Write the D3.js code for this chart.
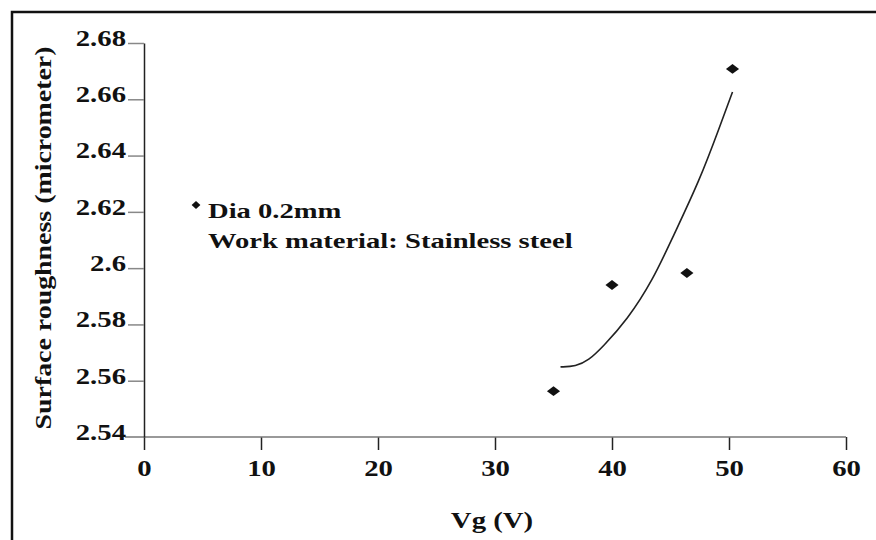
<!DOCTYPE html>
<html>
<head>
<meta charset="utf-8">
<script src="https://cdn.jsdelivr.net/npm/d3@7"></script>
<style>
  body { margin: 0; background: #fff; }
  text { font-family: "Liberation Serif", "Times New Roman", serif; font-weight: bold; fill: #111; }
</style>
</head>
<body>
<svg id="chart" width="876" height="540"></svg>
<script>
// measured points
const vg = [35, 40, 46.4, 50.3];
const roughness = [2.5563, 2.594, 2.5983, 2.6708];

// fitted trend line
const fitVg = [35.6, 36.9, 38.0, 39.2, 41.3, 43.5, 45.2, 47.5, 49.2, 50.3];
const fitRough = [2.5649, 2.5651, 2.5672, 2.572, 2.5816, 2.5958, 2.6111, 2.6313, 2.6502, 2.6626];

const xTicks = [0, 10, 20, 30, 40, 50, 60];
const yTicks = [2.54, 2.56, 2.58, 2.6, 2.62, 2.64, 2.66, 2.68];
const yTickLabels = ["2.54", "2.56", "2.58", "2.6", "2.62", "2.64", "2.66", "2.68"];

const legendLines = ["Dia 0.2mm", "Work material: Stainless steel"];

const svg = d3.select("#chart");

// frame (top and left edge of the scan)
svg.append("path")
    .attr("d", "M12,540 L12,12 L876,12")
    .attr("fill", "none")
    .attr("stroke", "#111")
    .attr("stroke-width", 2.5);

const x = d3.scaleLinear().domain([0, 60]).range([144, 846]);
const y = d3.scaleLinear().domain([2.54, 2.68]).range([437, 43]);

// the scanned text is wider than normal
function widen(sel, k) {
  sel.each(function () {
    const w = this.getComputedTextLength();
    d3.select(this).attr("textLength", w * k).attr("lengthAdjust", "spacingAndGlyphs");
  });
}

// x axis
const gx = svg.append("g")
    .attr("transform", `translate(0,${y(2.54)})`)
    .call(d3.axisBottom(x).tickValues(xTicks).tickFormat(d3.format("d"))
      .tickSize(13).tickPadding(10).tickSizeOuter(0));
gx.select(".domain").remove();
gx.append("line")
    .attr("x1", x(0) - 19).attr("x2", x(60))
    .attr("stroke", "#777").attr("stroke-width", 1.5);
gx.selectAll(".tick line").attr("stroke", "#222").attr("stroke-width", 1.5);
gx.selectAll("text").attr("font-size", 23).attr("fill", "#111").call(widen, 1.25);

// y axis
const gy = svg.append("g")
    .attr("transform", `translate(${x(0)},0)`)
    .call(d3.axisLeft(y).tickValues(yTicks).tickFormat((d, i) => yTickLabels[i])
      .tickSize(16).tickPadding(2).tickSizeOuter(0));
gy.select(".domain").attr("stroke", "#222").attr("stroke-width", 1.5);
gy.selectAll(".tick line").attr("stroke", "#888").attr("stroke-width", 1.5);
gy.selectAll("text").attr("font-size", 23).attr("fill", "#111")
    .attr("dy", "0.1em").call(widen, 1.25);
gy.selectAll(".tick").filter(d => d === 2.54).select("line").remove();

// axis titles
svg.append("text")
    .attr("x", 492).attr("y", 528)
    .attr("text-anchor", "middle")
    .attr("font-size", 23)
    .text("Vg (V)")
    .call(widen, 1.25);

svg.append("text")
    .attr("transform", "translate(51,238) rotate(-90)")
    .attr("text-anchor", "middle")
    .attr("font-size", 24)
    .attr("textLength", 383)
    .attr("lengthAdjust", "spacingAndGlyphs")
    .text("Surface roughness (micrometer)");

// fitted curve
const fit = fitVg.map((v, i) => [v, fitRough[i]]);
svg.append("path")
    .datum(fit)
    .attr("fill", "none")
    .attr("stroke", "#222")
    .attr("stroke-width", 1.6)
    .attr("d", d3.line().x(d => x(d[0])).y(d => y(d[1])).curve(d3.curveBasis));

// data markers
const diamond = d3.symbol().type(d3.symbolSquare).size(55);
svg.append("g")
    .selectAll("path")
    .data(vg.map((v, i) => [v, roughness[i]]))
    .join("path")
      .attr("d", diamond)
      .attr("transform", d => `translate(${x(d[0])},${y(d[1])}) scale(1.25,0.95) rotate(45)`)
      .attr("fill", "#111");

// legend
svg.append("path")
    .attr("d", d3.symbol().type(d3.symbolSquare).size(32))
    .attr("transform", "translate(196,205) scale(1.1,1) rotate(45)")
    .attr("fill", "#111");

svg.append("g")
    .selectAll("text")
    .data(legendLines)
    .join("text")
      .attr("x", 208)
      .attr("y", (d, i) => 218 + i * 30)
      .attr("font-size", 22)
      .text(d => d)
      .call(widen, 1.3);
</script>
</body>
</html>
